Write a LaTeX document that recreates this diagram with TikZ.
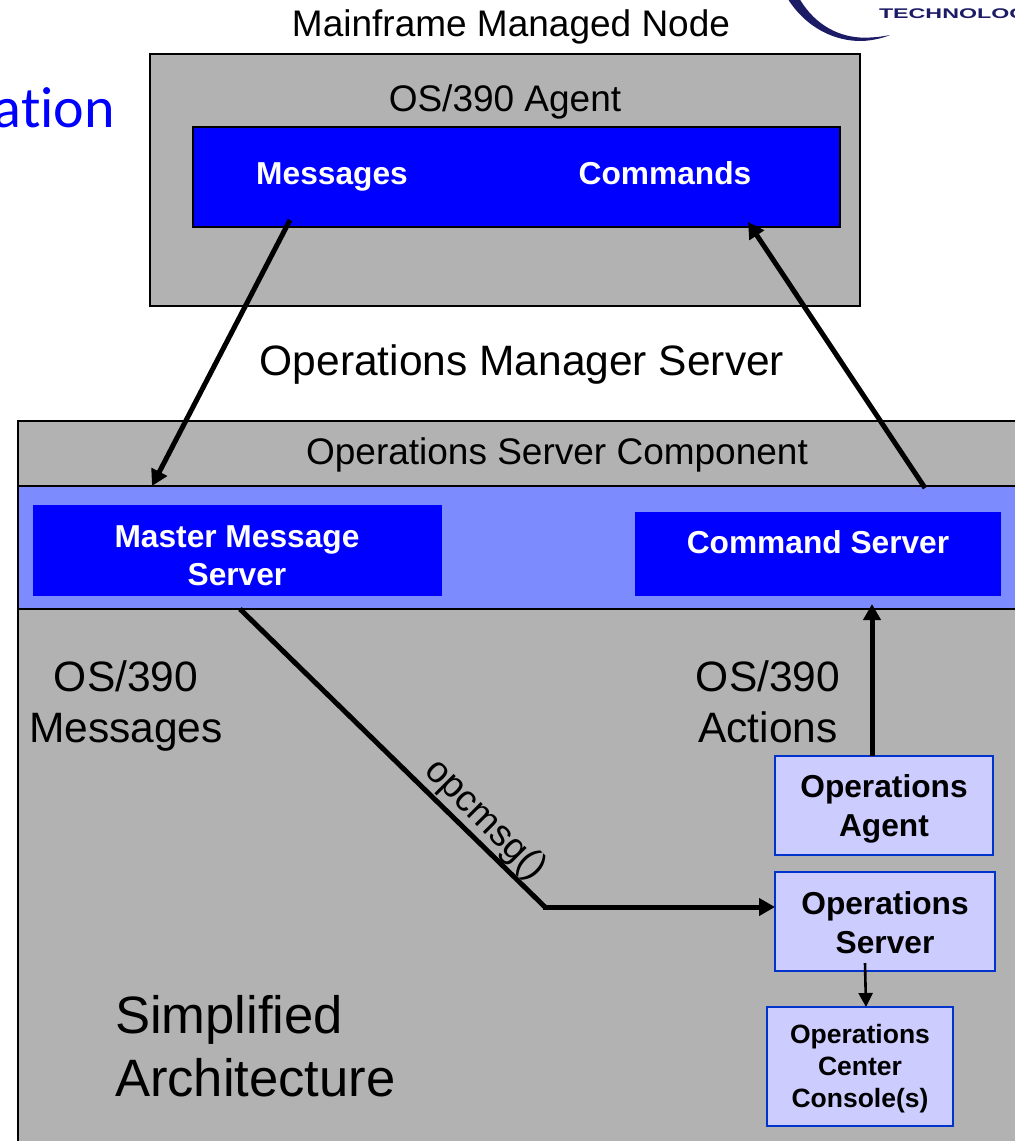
\documentclass[tikz,border=0pt]{standalone}
\usepackage{fontspec}
\setmainfont{Liberation Sans}
\newfontfamily\titlefont[Ligatures=NoCommon]{Carlito}
\usetikzlibrary{arrows.meta}
\definecolor{panelgray}{HTML}{B2B2B2}
\definecolor{deepblue}{HTML}{0000FF}
\definecolor{midblue}{HTML}{7C8CFF}
\definecolor{paleblue}{HTML}{CCCCFF}
\definecolor{edgeblue}{HTML}{0033CC}
\definecolor{logonavy}{HTML}{1C1C66}
\newcommand{\fs}[2]{\fontsize{#1}{#2}\selectfont}
\tikzset{
  every node/.style={inner sep=0pt,outer sep=0pt},
  panel/.style={draw=black,fill=panelgray,line width=2.4pt},
  bluebox/.style={draw=black,fill=deepblue,line width=2.4pt},
  flatblue/.style={fill=deepblue},
  bandbox/.style={draw=black,fill=midblue,line width=2.4pt},
  palebox/.style={draw=edgeblue,fill=paleblue,line width=2.5pt},
  whitelabel/.style={text=white,font=\bfseries\fs{31.7}{37.5},align=center},
  midlabel/.style={text=black,font=\fs{37}{44},align=center},
  biglabel/.style={text=black,font=\fs{42.5}{51},align=center},
  palelabel/.style={text=black,font=\bfseries\fs{31.7}{38.5},align=center},
  smallpale/.style={text=black,font=\bfseries\fs{26.5}{32},align=center},
  thickarrow/.style={draw=black,line width=5pt,-{Triangle[length=16pt,width=17pt]}},
  thickline/.style={draw=black,line width=5pt},
  thinarrow/.style={draw=black,line width=2.6pt,-{Triangle[length=14pt,width=14pt]}},
}
\begin{document}
\begin{tikzpicture}[x=1pt,y=-1pt]
\useasboundingbox (0,0) rectangle (1015,1141);
\begin{scope}
\clip (0,0) rectangle (1015,1141);
% logo
\fill[logonavy] (786,-4) .. controls (805,28) and (835,41.5) .. (862,41)
  .. controls (873,40.5) and (883,38) .. (890,35)
  .. controls (880,37) and (870,38) .. (860,37.5)
  .. controls (835,36) and (812,22) .. (798,-4) -- cycle;
\node[anchor=base west,text=logonavy,font=\bfseries\fs{14}{14},xscale=1.66] (logotext) at (879,18) {TECHNOLOGY};
% title fragment
\node[anchor=base east,text=deepblue] (titlefrag) at (115,127) {\titlefont\fs{58}{58}ation};
% top panel
\node[midlabel] (mainframe) at (511,27) {Mainframe Managed Node};
\node[panel,minimum width=710pt,minimum height=252pt] (agentpanel) at (505,180) {};
\node[midlabel] (agentlabel) at (505,102) {OS/390 Agent};
\node[bluebox,minimum width=647pt,minimum height=100pt] (agentbox) at (516.5,177) {};
\node[whitelabel] (messages) at (332,177) {Messages};
\node[whitelabel] (commands) at (665,173) {Commands};
\node[biglabel] (omserver) at (522,365) {Operations Manager Server};
% server panel
\node[panel,minimum width=1020pt,minimum height=760pt] (serverpanel) at (528,801) {};
\node[midlabel] (componentlabel) at (557,455) {Operations Server Component};
\node[bandbox,minimum width=1022pt,minimum height=123pt] (band) at (529,547.5) {};
\node[flatblue,minimum width=409pt,minimum height=91pt] (master) at (237.5,550.5) {};
\node[whitelabel] (masterlabel) at (237,555.5) {Master Message\\Server};
\node[flatblue,minimum width=366pt,minimum height=84pt] (cmdserver) at (818,554) {};
\node[whitelabel] (cmdlabel) at (818,542) {Command Server};
\node[biglabel] (osmsg) at (126,706) {OS/390\\Messages};
\node[biglabel] (osact) at (768,702) {OS/390\\Actions};
\node[anchor=west,text=black,font=\fs{52.6}{63},align=left] (simplified) at (115,1046) {Simplified\\Architecture};
\node[palebox,minimum width=218pt,minimum height=99pt] (opsagent) at (884,805.5) {};
\node[palelabel] (opsagentlabel) at (884,809) {Operations\\Agent};
\node[palebox,minimum width=220pt,minimum height=99pt] (opsserver) at (885,921.5) {};
\node[palelabel] (opsserverlabel) at (885,922.5) {Operations\\Server};
\node[palebox,minimum width=186pt,minimum height=119pt] (console) at (860,1066.5) {};
\node[smallpale] (consolelabel) at (860,1069) {Operations\\Center\\Console(s)};
\coordinate (bend) at (545,907);
% connectors
\draw[thickarrow] ([xshift=-226.5pt,yshift=7pt]agentbox.south) -- ([xshift=-377pt]band.north);
\draw[thickarrow] ([xshift=396pt,yshift=-2pt]band.north) -- ([xshift=231.5pt,yshift=5pt]agentbox.south);
\draw[thickarrow] ([xshift=-12pt]opsagent.north) -- ([xshift=54pt,yshift=-8pt]cmdserver.south);
\draw[thickline] ([xshift=-289pt]band.south) -- (bend);
\draw[thickarrow] ([xshift=-2.5pt]bend) -- (bend -| opsserver.west);
\draw[thinarrow] ([xshift=-20pt,yshift=8pt]opsserver.south) -- ([xshift=6pt]console.north);
\node[text=black,font=\fs{37}{37},rotate=-45] (opcmsg) at (485,820) {opcmsg()};
\end{scope}
\end{tikzpicture}
\end{document}
